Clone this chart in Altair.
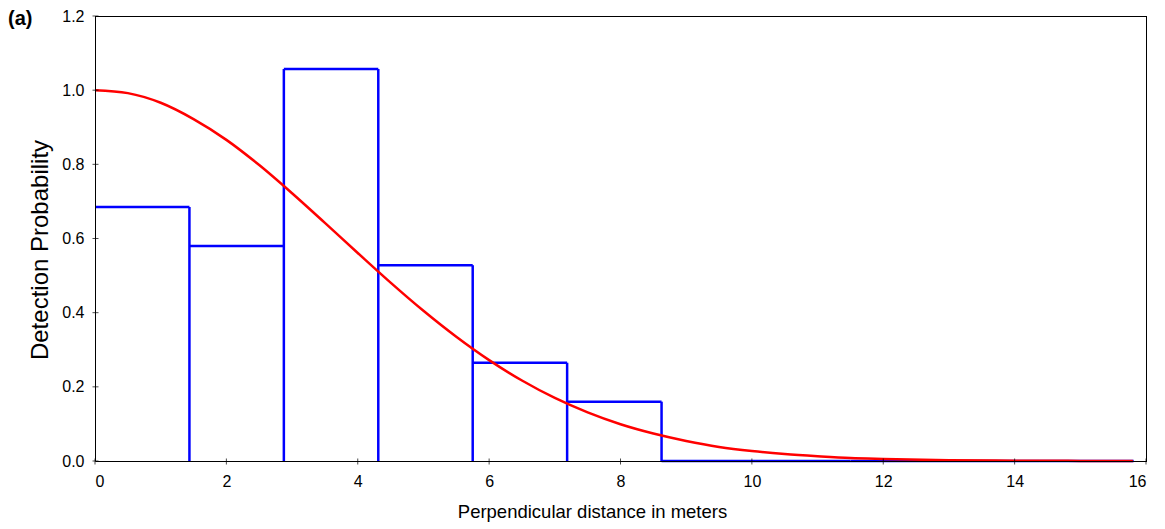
import altair as alt
import pandas as pd

# Histogram (bin edges and heights)
bin_left = [0.0, 1.4375, 2.875, 4.3125, 5.75, 7.1875, 8.625, 10.0625, 11.5, 12.9375, 14.375]
bin_right = [1.4375, 2.875, 4.3125, 5.75, 7.1875, 8.625, 10.0625, 11.5, 12.9375, 14.375, 15.8125]
bin_height = [0.685, 0.580, 1.057, 0.528, 0.265, 0.160, 0.0, 0.0, 0.0, 0.0, 0.0]

# Fitted detection curve
curve_x = [0, 0.5, 1, 1.5, 2, 2.5, 3, 3.5, 4, 4.5, 5, 5.5, 6, 6.5, 7, 7.5, 8, 8.5,
           9, 9.5, 10, 10.5, 11, 11.5, 12, 13, 14, 15, 15.8]
curve_y = [1.0, 0.992, 0.966, 0.922, 0.866, 0.798, 0.722, 0.642, 0.561, 0.481, 0.405,
           0.335, 0.272, 0.217, 0.170, 0.131, 0.099, 0.074, 0.054, 0.038, 0.027, 0.019,
           0.013, 0.008, 0.0055, 0.0022, 0.0008, 0.0003, 0.0001]

x_ticks = [0, 2, 4, 6, 8, 10, 12, 14, 16]
y_ticks = [0.0, 0.2, 0.4, 0.6, 0.8, 1.0, 1.2]

W, H = 1051, 445
FONT = "Liberation Sans"
BLUE = "#0000FF"
RED = "#FF0000"

# tops of bins
tops = pd.DataFrame({"x": bin_left, "x2": bin_right, "y": bin_height})
# vertical edges between bins: height is the taller neighbour
edge_x, edge_h = [], []
for i in range(1, len(bin_left)):
    h = max(bin_height[i - 1], bin_height[i])
    if h > 0:
        edge_x.append(bin_left[i])
        edge_h.append(h)
edges = pd.DataFrame({"x": edge_x, "y": edge_h})

curve = pd.DataFrame({"x": curve_x, "y": curve_y})
xt = pd.DataFrame({"v": x_ticks})
yt = pd.DataFrame({"v": y_ticks})

xscale = alt.Scale(domain=[0, 16], nice=False, zero=False)
yscale = alt.Scale(domain=[0, 1.2], nice=False)

xaxis = alt.Axis(values=x_ticks, format="d", ticks=False, grid=False,
                 title="Perpendicular distance in meters",
                 titleX=497, titleY=50, titleAlign="center", titleBaseline="middle",
                 titleFontSize=18.5, titleFontWeight="normal", titleColor="#000",
                 labelFontSize=16, labelColor="#000", labelPadding=12,
                 domainColor="#000", zindex=1)
yaxis = alt.Axis(values=y_ticks, format=".1f", ticks=False, grid=False,
                 title="Detection Probability",
                 titleX=-55, titleY=H / 2 + 11, titleAngle=-90, titleAlign="center",
                 titleBaseline="middle", titleFontSize=24, titleFontWeight="normal",
                 titleColor="#000", labelFontSize=16, labelColor="#000",
                 labelPadding=11, domainColor="#000", zindex=1)

hist_tops = alt.Chart(tops).mark_rule(color=BLUE, strokeWidth=2.5).encode(
    x=alt.X("x:Q", scale=xscale, axis=xaxis),
    x2="x2:Q",
    y=alt.Y("y:Q", scale=yscale, axis=yaxis),
)
hist_edges = alt.Chart(edges).mark_rule(color=BLUE, strokeWidth=2.5).encode(
    x=alt.X("x:Q", scale=xscale),
    y=alt.Y("y:Q", scale=yscale),
    y2=alt.datum(0),
)

line = alt.Chart(curve).mark_line(color=RED, strokeWidth=2.5, interpolate="monotone").encode(
    x=alt.X("x:Q", scale=xscale),
    y=alt.Y("y:Q", scale=yscale),
)

xtick_marks = alt.Chart(xt).mark_tick(color="#000", size=6, thickness=1).encode(
    x=alt.X("v:Q", scale=xscale),
    y=alt.value(H + 0.5),
)
ytick_marks = alt.Chart(yt).mark_tick(color="#000", size=6, thickness=1).encode(
    y=alt.Y("v:Q", scale=yscale),
    x=alt.value(0.5),
)

top_border = alt.Chart(xt).mark_rule(color="#000", strokeWidth=1).encode(
    x=alt.value(0), x2=alt.value(W + 1), y=alt.value(0.5)
)
right_border = alt.Chart(xt).mark_rule(color="#000", strokeWidth=1).encode(
    x=alt.value(W + 0.5), y=alt.value(0), y2=alt.value(H + 1)
)

label = alt.Chart(pd.DataFrame({"t": ["(a)"]})).mark_text(
    font=FONT, fontSize=20, fontWeight="bold", align="left", baseline="middle", color="#000"
).encode(text="t:N", x=alt.value(-87), y=alt.value(2.5))

chart = alt.layer(
    hist_tops, hist_edges, line, top_border, right_border, xtick_marks, ytick_marks, label
).properties(
    width=W, height=H,
    padding={"left": 87, "top": 8, "right": 10, "bottom": 68},
    autosize=alt.AutoSizeParams(type="none"),
).configure_view(strokeWidth=0).configure(
    font=FONT
).configure_axis(labelFont=FONT, titleFont=FONT)

chart.save("out.html", embed_options={"renderer": "svg", "actions": False})
